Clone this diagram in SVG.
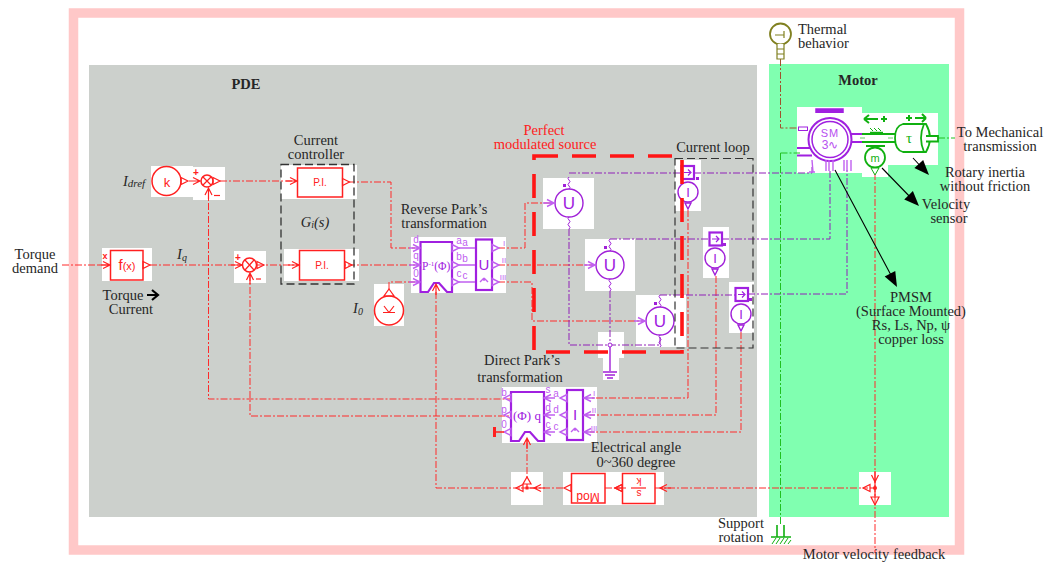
<svg xmlns="http://www.w3.org/2000/svg" width="1045" height="562" viewBox="0 0 1045 562">
<style>
text{font-family:"Liberation Serif","Times New Roman",serif;font-size:14.5px;fill:#262626;text-anchor:middle}
.l{text-anchor:start}
.w{fill:#fff;stroke:none}
.rw{fill:none;stroke:#ff2a2a;stroke-width:1;stroke-dasharray:7 2 2 2}
.pw{fill:none;stroke:#9020b8;stroke-width:1;stroke-dasharray:7 2 2 2}
.gw{fill:none;stroke:#20c020;stroke-width:1;stroke-dasharray:7 2 2 2}
.rb{fill:#fff;stroke:#ff2020;stroke-width:1.5}
.rl{fill:none;stroke:#ff2020;stroke-width:1.2}
.pb{fill:#fff;stroke:#a020e0;stroke-width:2.2}
.pc{fill:none;stroke:#a020d8;stroke-width:1.4}
.pl{fill:none;stroke:#c060f0;stroke-width:1.4}
.gb{fill:none;stroke:#10b010;stroke-width:1.8}
.rt{fill:#ff2020;font-family:"Liberation Sans",Arial,sans-serif}
.pt{fill:#a020e0;font-family:"Liberation Sans",Arial,sans-serif}
.ps{fill:#a020e0}
.pm{fill:#c060f0;font-family:"Liberation Sans",Arial,sans-serif;font-size:10px}
.k{fill:none;stroke:#000;stroke-width:1.1}
</style>
<defs>
<path id="tri" d="M0-3.500L7 0L0 3.500Z"/>
<path id="arr" d="M-7-3.500L0 0L-7 3.500M-11 0H0"/>
<path id="ah" d="M0 0L-15-6L-15 6Z" fill="#000"/>
<path id="wig" d="M0 0q2-1.500 0-3q-2-1.500 0-3q2-1.500 0-3q-2-1.500 0-3" fill="none" stroke="#a020d8"/>
<path id="sq" d="M-4 0H2M0-3L3 0L0 3" fill="none" stroke="#a020e0" stroke-width="1.200"/>
<path id="star" d="M0 0V-3M0-3L-4 1M0-3L4 1" fill="none"/>
</defs>
<rect x="73.500" y="13" width="886" height="537" fill="#fff" stroke="#ffc8c8" stroke-width="9.500"/>
<rect x="89" y="65" width="668" height="452" fill="#ccd0cc"/>
<rect x="769" y="64" width="180" height="453" fill="#80ffb0"/>

<g id="backgrounds">
<rect class="w" x="102" y="248" width="50" height="33"/>
<rect class="w" x="151" y="166" width="42" height="31"/>
<rect class="w" x="193" y="167" width="32" height="33"/>
<rect class="w" x="281" y="165" width="76" height="34"/>
<rect class="w" x="234" y="251" width="32" height="32"/>
<rect class="w" x="284" y="249" width="75" height="32"/>
<rect class="w" x="374" y="284" width="30" height="42"/>
<rect class="w" x="411" y="237" width="95" height="56"/>
<rect class="w" x="543" y="178" width="51" height="51"/>
<rect class="w" x="585" y="239" width="50" height="52"/>
<rect class="w" x="636" y="295" width="50" height="52"/>
<rect class="w" x="675" y="160" width="26" height="51"/>
<rect class="w" x="703" y="227" width="26" height="51"/>
<rect class="w" x="729" y="282" width="25" height="51"/>
<rect class="w" x="598" y="332" width="26" height="26"/>
<rect class="w" x="603" y="358" width="16" height="22"/>
<rect class="w" x="502" y="387" width="95" height="56"/>
<rect class="w" x="511" y="472" width="32" height="33"/>
<rect class="w" x="563" y="472" width="101" height="33"/>
<rect class="w" x="859" y="472" width="32" height="33"/>
<rect class="w" x="797" y="107" width="65" height="66"/>
<rect class="w" x="862" y="113" width="76" height="52"/>
<rect class="w" x="862" y="165" width="26" height="12"/>
</g>

<g id="connectors">
<path class="rw" d="M62 265H110M150 265H242M257 265H415M220 181H297M348 182H391V248H415M208.500 190V399H510M250 274V416H510M389 289V282H415M498 248H525V203H553M498 265H592M498 282H532V321H645M436 292V488H520M530 488H564M605 488H622M655 488H868M527 441V478M875 173V553M688 210V398H590M716 276V415H590M741 332V432H590"/>
<path class="pw" d="M569 173H688M694 173H812V165M610 239H715M722 239H830V170M660 295H741M748 294H847V170M569 229V345H660V335M610 291V345"/>
<use href="#wig" x="569" y="189"/><use href="#wig" x="610" y="251"/><use href="#wig" x="660" y="307"/>
<use href="#wig" x="569" y="229"/><use href="#wig" x="610" y="291"/><use href="#wig" x="660" y="347"/>
<path fill="none" stroke="#a0522d" stroke-width="1" stroke-dasharray="7 2 2 2" d="M780.500 59V128H798"/>
<path class="gw" d="M780.500 153H800M780.500 153V525M938 138H955"/>
<path class="k" d="M913 158L925 171M882 168L914 201M835 170L892 277"/>
<use href="#ah" transform="translate(929,175) rotate(47)"/>
<use href="#ah" transform="translate(919,206) rotate(46)"/>
<use href="#ah" transform="translate(897,287) rotate(62)"/>
</g>

<g id="torque-current">
<rect class="rb" x="110.500" y="250.500" width="32.500" height="29.500"/>
<text class="rt" x="127" y="270" style="font-size:11px"><tspan style="font-size:15px">f</tspan>(x)</text>
<use href="#tri" class="rl" x="143" y="265"/><use href="#arr" class="rl" x="110" y="265"/>
<text class="rt" x="105" y="259" style="font-size:9px;font-weight:bold">x</text>
</g>
<g id="k-source">
<circle class="rb" cx="166.500" cy="181" r="14.500"/>
<text class="rt" x="167" y="187" style="font-size:13px">k</text>
<use href="#tri" class="rl" x="181" y="181"/>
</g>
<g id="sum-d">
<circle class="rb" cx="207" cy="181" r="6"/>
<path class="rl" d="M203 177L211 185M211 177L203 185"/>
<use href="#tri" class="rl" x="213" y="181"/><use href="#arr" class="rl" x="200" y="181"/>
<use href="#arr" class="rl" transform="translate(208.500,188) rotate(-90)"/>
<text class="rt" x="196" y="176" style="font-size:10px;font-weight:bold">+</text>
<path class="rl" d="M214 195.500H220"/>
</g>
<g id="sum-q">
<circle class="rb" cx="249.500" cy="265" r="7"/>
<path class="rl" d="M245 260L254 270M254 260L245 270"/>
<use href="#tri" class="rl" x="257" y="265"/><use href="#arr" class="rl" x="242" y="265"/>
<use href="#arr" class="rl" transform="translate(250,273) rotate(-90)"/>
<text class="rt" x="238" y="261" style="font-size:10px;font-weight:bold">+</text>
<path class="rl" d="M256 279H261"/>
</g>
<g id="pi-d">
<rect class="rb" x="297.500" y="168" width="45" height="29"/>
<text class="rt" x="320" y="186" style="font-size:10px">P.I.</text>
<use href="#tri" class="rl" x="342.500" y="182"/><use href="#arr" class="rl" x="297" y="181"/>
</g>
<g id="pi-q">
<rect class="rb" x="299.500" y="250.500" width="45" height="29.500"/>
<text class="rt" x="322" y="268.500" style="font-size:10px">P.I.</text>
<use href="#tri" class="rl" x="345" y="265"/><use href="#arr" class="rl" x="299" y="265"/>
</g>
<g id="current-controller">
<rect x="281" y="164.500" width="73" height="119.500" fill="none" stroke="#333" stroke-width="1.300" stroke-dasharray="8 4"/>
<text x="316" y="145">Current</text><text x="316" y="159">controller</text>
<text x="315" y="227" style="font-style:italic">G<tspan style="font-size:10px" dy="1">i</tspan><tspan dy="-1">(s)</tspan></text>
</g>
<g id="i0-source">
<circle class="rb" cx="389" cy="310.500" r="14.500"/>
<path class="rl" d="M384 296H394L389 289Z"/>
<path class="rl" d="M383 312.500H395M389 312.500L384 306M389 312.500L394 306"/>
</g>
<g id="reverse-park">
<path class="pb" d="M420.500 242H452V292H447L439 283H434L428 292H420.500Z"/>
<rect class="pb" x="476" y="239.500" width="16" height="50.500"/>
<text class="ps l" x="422" y="270" style="font-size:11.500px">P<tspan dy="-4" style="font-size:7px">-1</tspan><tspan dy="4">(Φ)</tspan></text>
<text class="pt" x="484" y="270" style="font-size:15px">U</text>
<use href="#star" class="pl" x="484" y="281"/>
<text class="pm" x="416" y="243">d</text><text class="pm" x="416" y="259">q</text><text class="pm" x="416" y="277">0</text>
<text class="pm" x="459" y="244">a</text><text class="pm" x="465" y="246">a</text>
<text class="pm" x="459" y="260">b</text><text class="pm" x="465" y="262">b</text>
<text class="pm" x="459" y="277">c</text><text class="pm" x="465" y="279">c</text>
<text class="pm" x="504" y="246" style="font-size:8px">I</text><text class="pm" x="504" y="263" style="font-size:8px">II</text><text class="pm" x="503" y="280" style="font-size:8px">III</text>
<g class="pl"><use href="#arr" x="420" y="248"/><use href="#arr" x="420" y="265"/><use href="#arr" x="420" y="282"/>
<use href="#tri" x="452" y="248"/><use href="#tri" x="452" y="265"/><use href="#tri" x="452" y="282"/>
<path d="M459 248H475M459 265H475M459 282H475"/>
<use href="#tri" x="492" y="248"/><use href="#tri" x="492" y="265"/><use href="#tri" x="492" y="282"/></g>
<use href="#arr" class="rl" transform="translate(436,284) rotate(-90)"/>
<text x="444" y="214">Reverse Park’s</text><text x="444" y="228">transformation</text>
</g>
<g id="source-u1"><circle class="pc" cx="569" cy="203" r="14"/><text class="pt" x="569" y="209" style="font-size:17px">U</text><use href="#arr" class="pl" x="554" y="203"/><rect x="563" y="184" width="3" height="3" fill="#a020d8"/></g>
<g id="source-u2"><circle class="pc" cx="610" cy="265" r="14"/><text class="pt" x="610" y="271" style="font-size:17px">U</text><use href="#arr" class="pl" x="595" y="265"/><rect x="604" y="246" width="3" height="3" fill="#a020d8"/></g>
<g id="source-u3"><circle class="pc" cx="660" cy="321" r="14"/><text class="pt" x="660" y="327" style="font-size:17px">U</text><use href="#arr" class="pl" x="645" y="321"/><rect x="654" y="302" width="3" height="3" fill="#a020d8"/></g>
<g id="sensor-1"><rect class="pb" x="681.500" y="166" width="12.500" height="13"/><use href="#sq" x="688" y="172.500"/><circle class="pc" cx="688" cy="192" r="10"/><text class="pt" x="688" y="197" style="font-size:13px">I</text><path class="pc" d="M685 203H691L688 209Z"/><rect x="696" y="177" width="3" height="3" fill="#a020d8"/></g>
<g id="sensor-2"><rect class="pb" x="709.500" y="232.500" width="12.500" height="13"/><use href="#sq" x="716" y="239"/><circle class="pc" cx="715" cy="258" r="10"/><text class="pt" x="715" y="263" style="font-size:13px">I</text><path class="pc" d="M712 269H718L715 275Z"/><rect x="723" y="243" width="3" height="3" fill="#a020d8"/></g>
<g id="sensor-3"><rect class="pb" x="735.500" y="288" width="12.500" height="13"/><use href="#sq" x="742" y="294.500"/><circle class="pc" cx="741" cy="314" r="10"/><text class="pt" x="741" y="319" style="font-size:13px">I</text><path class="pc" d="M738 325H744L741 331Z"/><rect x="749" y="298" width="3" height="3" fill="#a020d8"/></g>
<g id="ground"><circle cx="610" cy="345" r="2" fill="#fff" stroke="#a020d8"/><path class="pc" d="M610 347V371M603 372H617M605 375H615M607 378H613"/></g>
<g id="modulated-source-box">
<rect x="534" y="156" width="148" height="196" fill="none" stroke="#ff1515" stroke-width="3.600" stroke-dasharray="24 14"/>
<text x="544" y="135" style="fill:#ff2020">Perfect</text><text x="545" y="149" style="fill:#ff2020">modulated source</text>
</g>
<g id="current-loop">
<rect x="675" y="158.500" width="78" height="189.500" fill="none" stroke="#333" stroke-width="1.200" stroke-dasharray="8 4"/>
<text x="713" y="152">Current loop</text>
</g>
<g id="direct-park">
<path class="pb" d="M511 392H544V441H538L530 432H525L519 441H511Z"/>
<rect class="pb" x="567" y="390" width="16" height="50"/>
<text class="ps" x="527" y="420" style="font-size:13px">(Φ) q</text>
<text class="pt" x="575" y="420" style="font-size:15px">I</text>
<use href="#star" class="pl" x="575" y="431"/>
<g class="pl"><use href="#tri" transform="translate(511,398) rotate(180)"/><use href="#tri" transform="translate(511,415) rotate(180)"/><use href="#tri" transform="translate(511,432) rotate(180)"/>
<use href="#arr" transform="translate(544,398) rotate(180)"/><use href="#arr" transform="translate(544,415) rotate(180)"/><use href="#arr" transform="translate(544,432) rotate(180)"/>
<use href="#tri" transform="translate(567,398) rotate(180)"/><use href="#tri" transform="translate(567,415) rotate(180)"/><use href="#tri" transform="translate(567,432) rotate(180)"/>
<use href="#arr" transform="translate(584,398) rotate(180)"/><use href="#arr" transform="translate(584,415) rotate(180)"/><use href="#arr" transform="translate(584,432) rotate(180)"/></g>
<text class="pm" x="504" y="396">b</text><text class="pm" x="504" y="413">p</text><text class="pm" x="504" y="428">0</text>
<text class="pm" x="548" y="393">s</text><text class="pm" x="556" y="397">a</text>
<text class="pm" x="548" y="411">d</text><text class="pm" x="556" y="413">d</text>
<text class="pm" x="548" y="428">c</text><text class="pm" x="556" y="430">c</text>
<text class="pm" x="594" y="396" style="font-size:8px">I</text><text class="pm" x="594" y="413" style="font-size:8px">II</text><text class="pm" x="594" y="431" style="font-size:8px">III</text>
<path class="rl" d="M504 432H496" style="stroke-width:1.500"/><path d="M494.500 427V437" stroke="#ff2020" stroke-width="3"/>
<use href="#arr" class="rl" transform="translate(527,438) rotate(-90)"/>
<text x="522" y="365">Direct Park’s</text><text x="520" y="382">transformation</text>
</g>
<g id="angle-junction">
<rect x="525.500" y="486.500" width="3" height="3" fill="#ff2020"/>
<path class="rl" d="M521 488H537M527 488V484"/>
<path class="rl" d="M523 484H531L527 477Z"/><use href="#tri" class="rl" transform="translate(523,488) rotate(180)"/>
<use href="#arr" class="rl" transform="translate(534,488) rotate(180)"/>
</g>
<g id="mod-block">
<rect class="rb" x="571.500" y="473.500" width="33.500" height="29.500"/>
<text class="rt" x="588" y="483.500" transform="rotate(180 588 488)" style="font-size:12px">Mod</text>
<use href="#tri" class="rl" transform="translate(571,488) rotate(180)"/>
</g>
<g id="integrator-block">
<rect class="rb" x="622.500" y="473.500" width="32.500" height="30"/>
<path class="rl" d="M631 488H646"/>
<text class="rt" x="639" y="486" transform="rotate(180 639 488)" style="font-size:10px">s</text>
<text class="rt" x="639" y="498" transform="rotate(180 639 488)" style="font-size:10px">k</text>
<use href="#tri" class="rl" transform="translate(622,488) rotate(180)"/>
<use href="#arr" class="rl" transform="translate(615,488) rotate(180)"/>
<use href="#arr" class="rl" transform="translate(660,488) rotate(180)"/>
</g>
<g id="speed-junction">
<circle cx="875" cy="488" r="2" fill="#ff2020"/>
<path class="rl" d="M870 488H875M875 480V498"/>
<use href="#arr" class="rl" transform="translate(875,482) rotate(90)"/>
<use href="#tri" class="rl" transform="translate(870,488) rotate(180)"/>
<path class="rl" d="M871 497H879L875 505Z"/>
</g>
<g id="motor">
<path d="M816 113V109H843V113" fill="#a020e0" stroke="#a020e0" stroke-width="1.500"/>
<rect class="pb" x="798.500" y="127" width="9" height="3.500" style="stroke-width:1"/>
<path d="M797 148H812M797 155.500H812" stroke="#a020e0" stroke-width="2.200" fill="none"/>
<path d="M846 134H862M846 142H862" stroke="#a020e0" stroke-width="1.800" fill="none"/>
<path d="M862 134H896M862 142H896" stroke="#10b010" stroke-width="1.800" fill="none"/>
<path d="M860 138H865M888 138H893" stroke="#60d060" stroke-width="1"/>
<circle cx="830" cy="139.500" r="21.500" fill="#fff" stroke="#a020e0" stroke-width="2"/>
<circle cx="830" cy="139.500" r="18" fill="none" stroke="#a020e0" stroke-width="1.500"/>
<text class="pt" x="830" y="137" style="font-size:11px;fill:#b850f0;letter-spacing:1px">SM</text>
<text class="pt" x="830" y="149" style="font-size:12px;fill:#b850f0">3∿</text>
<path class="pl" d="M812 160L813 172M809 172H815M826 160V171M829 160V171M833 160V171M844 160V171M847 160V171M851 160V171"/>
<path class="gb" d="M864 119H878M864 119L869 115M864 119L869 123M881 119H887M884 116V122M906 118H912M909 115V121M915 118H926M926 118L922 114M926 118L922 122" style="stroke-width:2"/>
<path class="gb" d="M870 132.500H883" style="stroke-width:1.500"/><path d="M870 128L873 131M874 128L877 131M878 128L881 131" stroke="#10b010" fill="none"/>
<path class="gb" d="M903 124H926Q934 138 926 152H903Q895 150 895 138Q895 126 903 124ZM924 124Q918 138 924 152" style="fill:#fff"/>
<path class="gb" d="M926 136H938V141.500H926" style="fill:#fff"/>
<text x="909" y="143" style="fill:#10b010;font-size:15px">τ</text>
</g>
<g id="velocity-sensor">
<path class="gb" d="M866 146H885M875 146V148"/>
<circle class="gb" cx="875" cy="157.500" r="10" style="fill:#fff"/>
<text x="875" y="162" style="fill:#10b010;font-size:11px;font-family:'Liberation Sans',sans-serif">m</text>
<path d="M871 168H879L875 175Z" fill="#fff" stroke="#10b010"/>
</g>
<g id="thermal">
<circle cx="780.500" cy="34" r="10.500" fill="#fff" stroke="#808020" stroke-width="1.800"/>
<path d="M775 35H784M784 31V38" stroke="#808020" stroke-width="1.200"/>
<path d="M777 44V59H784V44M777 49H784M777 54H784" fill="#fff" stroke="#808020" stroke-width="1.200"/>
</g>
<g id="support">
<path d="M777 525V537M784 525V537M771 537H791" stroke="#10b010" stroke-width="1.600" fill="none"/>
<path d="M772 544L776 538M776 544L780 538M780 544L784 538M784 544L788 538M788 544L791 540" stroke="#10b010" fill="none"/>
</g>
<g id="labels">
<text x="246" y="89" style="font-weight:bold">PDE</text>
<text x="858" y="85" style="font-weight:bold">Motor</text>
<text x="35" y="259">Torque</text><text x="35" y="273">demand</text>
<text x="123" y="300">Torque</text><path d="M147 295H157M152 290L158 295L152 300" stroke="#000" stroke-width="2.200" fill="none"/>
<text x="131" y="314">Current</text>
<text x="134" y="186" style="font-style:italic">I<tspan style="font-size:11px" dy="1">dref</tspan></text>
<text x="182" y="259" style="font-style:italic">I<tspan style="font-size:10px" dy="2">q</tspan></text>
<text x="358" y="313" style="font-style:italic">I<tspan style="font-size:10px" dy="2">0</tspan></text>
<text class="l" x="798" y="34">Thermal</text><text class="l" x="798" y="48">behavior</text>
<text x="1000" y="137">To Mechanical</text><text x="1000" y="151">transmission</text>
<text x="985" y="177">Rotary inertia</text><text x="985" y="191">without friction</text>
<text x="946" y="209">Velocity</text><text x="949" y="223">sensor</text>
<text x="911" y="302">PMSM</text><text x="911" y="316">(Surface Mounted)</text><text x="911" y="330">Rs, Ls, Np, ψ</text><text x="911" y="344">copper loss</text>
<text x="636" y="452">Electrical angle</text><text x="636" y="467">0~360 degree</text>
<text x="741" y="528">Support</text><text x="741" y="542">rotation</text>
<text x="874" y="559">Motor velocity feedback</text>
</g>
</svg>
